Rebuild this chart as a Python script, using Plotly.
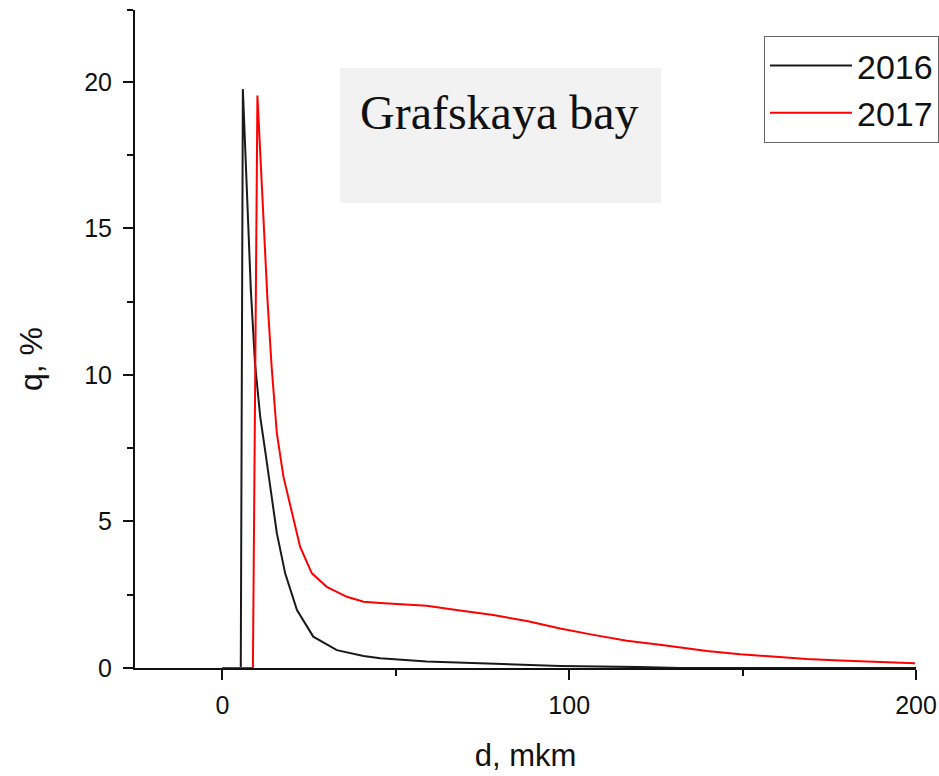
import plotly.graph_objects as go

# Data
d2016 = [0, 5.3, 5.9, 8.2, 9.4, 10.9, 12.3, 13.7, 15.7, 18.1, 21.5, 26.2, 33.0, 40.7, 45.5,
         58.9, 78.1, 97.4, 120.4, 132.0, 200.0]
q2016 = [0, 0, 19.75, 12.9, 10.4, 8.58, 7.44, 6.19, 4.60, 3.23, 1.98, 1.07, 0.61, 0.41, 0.33,
         0.22, 0.14, 0.07, 0.03, 0, 0]

d2017 = [0, 8.8, 10.1, 13.0, 14.2, 15.7, 17.6, 20.0, 22.4, 25.8, 30.1, 35.9, 40.7, 45.5,
         58.9, 68.5, 78.1, 87.8, 97.4, 107.0, 116.6, 126.2, 139.7, 149.3, 158.9, 168.5,
         178.1, 187.7, 199.7]
q2017 = [0, 0, 19.53, 12.56, 10.28, 8.01, 6.53, 5.28, 4.14, 3.23, 2.77, 2.43, 2.26, 2.22,
         2.12, 1.96, 1.81, 1.60, 1.35, 1.13, 0.93, 0.79, 0.58, 0.47, 0.39, 0.31,
         0.26, 0.22, 0.16]

series_names = ["2016", "2017"]
x_tick_vals = [0, 100, 200]
x_minor_vals = [50, 150]
y_tick_vals = [0, 5, 10, 15, 20]
y_minor_vals = [2.5, 7.5, 12.5, 17.5, 22.45]
annotation_text = "Grafskaya bay"
x_title = "d, mkm"
y_title = "q, %"

W, H = 939, 776
L, T = 135, 10
PLOT_R, PLOT_B = 916, 668
R, B = W - PLOT_R, H - PLOT_B
PW, PH = PLOT_R - L, PLOT_B - T


def px_x(p):  # screen pixel -> paper
    return (p - L) / PW


def px_y(p):
    return (PLOT_B - p) / PH


fig = go.Figure()
fig.add_trace(go.Scatter(x=d2016, y=q2016, mode="lines", name=series_names[0],
                         line=dict(color="#1a1a1a", width=2)))
fig.add_trace(go.Scatter(x=d2017, y=q2017, mode="lines", name=series_names[1],
                         line=dict(color="#ff0000", width=2)))

sans = "Liberation Sans, Arial, sans-serif"

fig.update_layout(
    width=W, height=H,
    margin=dict(l=L, r=R, t=T, b=B, autoexpand=False),
    plot_bgcolor="white", paper_bgcolor="white",
    font=dict(family=sans, size=25, color="#111"),
    showlegend=True,
    legend=dict(x=px_x(764), xanchor="left", y=px_y(36), yanchor="top",
                bordercolor="#666", borderwidth=1, bgcolor="white",
                font=dict(family=sans, size=34, color="#111"),
                itemwidth=82, tracegroupgap=0),
    xaxis=dict(range=[-25.2, 200], showgrid=False, zeroline=False, automargin=False,
               showline=True, linecolor="#111", linewidth=2,
               tickmode="array", tickvals=x_tick_vals, ticks="outside",
               ticklen=10, tickwidth=2, tickcolor="#111", ticklabelstandoff=4,
               minor=dict(tickvals=x_minor_vals, ticks="outside", ticklen=6, tickwidth=2, tickcolor="#111"),
               title=dict(text=x_title, font=dict(size=31), standoff=26)),
    yaxis=dict(range=[0, 22.45], showgrid=False, zeroline=False, automargin=False,
               showline=True, linecolor="#111", linewidth=2,
               tickmode="array", tickvals=y_tick_vals, ticks="outside",
               ticklen=10, tickwidth=2, tickcolor="#111", ticklabelstandoff=6,
               minor=dict(tickvals=y_minor_vals, ticks="outside", ticklen=6, tickwidth=2, tickcolor="#111")),
)

# y-axis title
fig.add_annotation(xref="paper", yref="paper", x=px_x(31), y=px_y(359),
                   xanchor="center", yanchor="middle", showarrow=False, textangle=-90,
                   text=y_title, font=dict(family=sans, size=32, color="#111"))

# grey label box
fig.add_shape(type="rect", xref="paper", yref="paper",
              x0=px_x(340), x1=px_x(661), y0=px_y(203), y1=px_y(68),
              fillcolor="#f2f2f2", line=dict(width=0), layer="below")
fig.add_annotation(xref="paper", yref="paper", x=px_x(358), y=px_y(112),
                   xanchor="left", yanchor="middle", showarrow=False,
                   text=annotation_text,
                   font=dict(family="Liberation Serif, Times New Roman, serif", size=48, color="#111"))

fig.write_html("out.html",
               config={"displayModeBar": False},
               post_script="document.body.style.margin='0';document.body.style.overflow='hidden';")
